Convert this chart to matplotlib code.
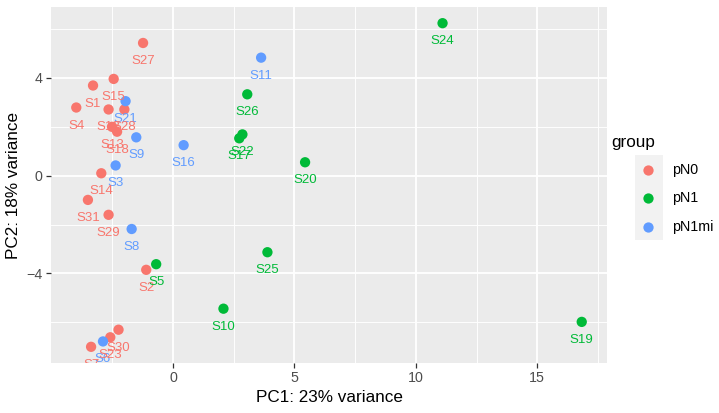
import matplotlib
matplotlib.use("Agg")
import matplotlib.pyplot as plt
import matplotlib.transforms as mtransforms
from matplotlib.patches import Rectangle
from matplotlib.lines import Line2D

plt.rcParams['font.family'] = ['Liberation Sans', 'DejaVu Sans']

# ---- data ----
samples = ["S1", "S2", "S3", "S4", "S5", "S6", "S7", "S8", "S9", "S10",
           "S11", "S12", "S13", "S14", "S15", "S16", "S17", "S18", "S19", "S20",
           "S21", "S22", "S23", "S24", "S25", "S26", "S27", "S28", "S29", "S30", "S31"]
pc1 = [-3.29, -1.10, -2.36, -3.98, -0.69, -2.88, -3.37, -1.70, -1.51, 2.08,
       3.63, -2.65, -2.51, -2.95, -2.44, 0.44, 2.73, -2.30, 16.83, 5.44,
       -1.95, 2.86, -2.58, 11.10, 3.89, 3.06, -1.23, -2.00, -2.65, -2.24, -3.50]
pc2 = [3.69, -3.85, 0.42, 2.79, -3.62, -6.78, -7.00, -2.18, 1.57, -5.44,
       4.83, 2.71, 2.00, 0.10, 3.96, 1.25, 1.53, 1.80, -5.98, 0.55,
       3.05, 1.69, -6.61, 6.24, -3.13, 3.33, 5.43, 2.71, -1.60, -6.30, -0.99]
group = ["pN0", "pN0", "pN1mi", "pN0", "pN1", "pN1mi", "pN0", "pN1mi", "pN1mi", "pN1",
         "pN1mi", "pN0", "pN0", "pN0", "pN0", "pN1mi", "pN1", "pN0", "pN1", "pN1",
         "pN1mi", "pN1", "pN0", "pN1", "pN1", "pN1", "pN0", "pN0", "pN0", "pN0", "pN0"]
levels = ["pN0", "pN1", "pN1mi"]
colors = {"pN0": "#F8766D", "pN1": "#00BA38", "pN1mi": "#619CFF"}
xticks = [0, 5, 10, 15]
yticks = [-4, 0, 4]

W, H, DPI = 719, 413, 100
fig = plt.figure(figsize=(W / DPI, H / DPI), dpi=DPI)
ax = fig.add_axes([51 / W, 1 - 363 / H, (607 - 51) / W, (363 - 7) / H])
ax.set_facecolor("#EBEBEB")

for g in levels:
    xs = [x for x, gg in zip(pc1, group) if gg == g]
    ys = [y for y, gg in zip(pc2, group) if gg == g]
    ax.scatter(xs, ys, s=55, color=colors[g], edgecolors="none", zorder=3, label=g)

off = mtransforms.offset_copy(ax.transData, fig=fig, x=0, y=-18, units="dots")
for s, x, y, g in zip(samples, pc1, pc2, group):
    ax.text(x, y, s, transform=off, ha="center", va="center", fontsize=9.5,
            color=colors[g], clip_on=True, zorder=4)

# limits with 5% expansion like ggplot
xr = max(pc1) - min(pc1)
yr = max(pc2) - min(pc2)
ax.set_xlim(min(pc1) - 0.05 * xr, max(pc1) + 0.05 * xr)
ax.set_ylim(min(pc2) - 0.05 * yr, max(pc2) + 0.05 * yr)

ax.set_xticks(xticks)
ax.set_yticks(yticks)
ax.set_xticks([-2.5, 2.5, 7.5, 12.5, 17.5], minor=True)
ax.set_yticks([-6, -2, 2, 6], minor=True)
ax.grid(which="major", color="white", linewidth=1.3)
ax.grid(which="minor", color="white", linewidth=0.65)
ax.set_axisbelow(True)
ax.tick_params(which="major", length=3.5, width=0.9, color="#333333",
               labelsize=10.3, labelcolor="#4D4D4D", pad=2.5)
ax.tick_params(which="minor", length=0)
for sp in ax.spines.values():
    sp.set_visible(False)

ax.set_xlabel("PC1: 23% variance", fontsize=12.3, color="black", labelpad=3)
ax.set_ylabel("PC2: 18% variance", fontsize=12.3, color="black", labelpad=4)

# legend (ggplot style)
fig.text(611 / W, 1 - 143 / H, "group", fontsize=12.3, ha="left", va="center")
fig.add_artist(Rectangle((635 / W, 1 - 240 / H), 28 / W, 85 / H,
                         transform=fig.transFigure, facecolor="#F2F2F2",
                         edgecolor="none"))
key_y = [170, 198, 227]
for g, ky in zip(levels, key_y):
    fig.add_artist(Line2D([648 / W], [1 - ky / H], transform=fig.transFigure,
                          marker="o", markersize=7.4, color=colors[g],
                          markeredgewidth=0, linestyle="none"))
    fig.text(672 / W, 1 - ky / H, g, fontsize=10.3, ha="left", va="center")

fig.savefig("out.png", dpi=DPI)
